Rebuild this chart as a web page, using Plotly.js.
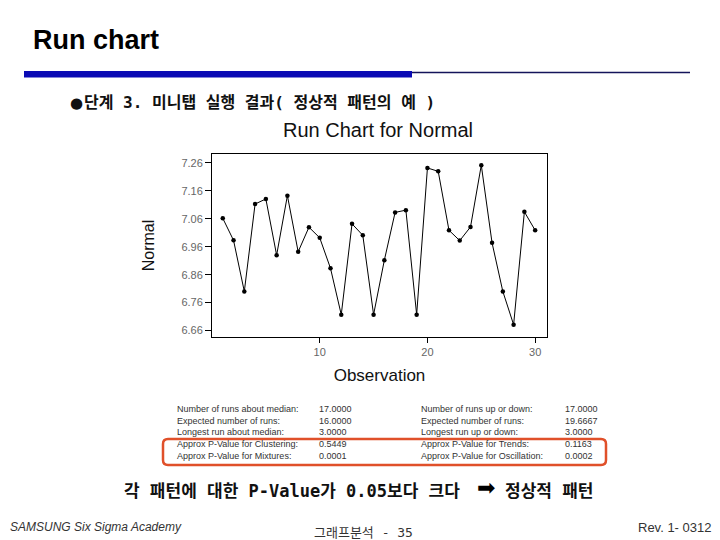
<!DOCTYPE html>
<html>
<head>
<meta charset="utf-8">
<script src="https://cdn.plot.ly/plotly-3.0.1.min.js"></script>
<style>
html,body{margin:0;padding:0;background:#fff;}
#chart{width:720px;height:540px;}
</style>
</head>
<body>
<div id="chart"></div>
<script>
// ---- data ----
var observation = [1,2,3,4,5,6,7,8,9,10,11,12,13,14,15,16,17,18,19,20,21,22,23,24,25,26,27,28,29,30];
var normalValues = [7.062,6.983,6.800,7.113,7.131,6.930,7.143,6.942,7.030,6.992,
                    6.883,6.717,7.042,7.001,6.717,6.912,7.083,7.091,6.717,7.242,
                    7.230,7.019,6.982,7.031,7.252,6.974,6.800,6.681,7.085,7.019];
var yTickVals = [6.66,6.76,6.86,6.96,7.06,7.16,7.26];
var yTickText = ["6.66","6.76","6.86","6.96","7.06","7.16","7.26"];
var xTickVals = [10,20,30];
var xTickText = ["10","20","30"];

var statLabelsLeft = ["Number of runs about median:","Expected number of runs:","Longest run about median:","Approx P-Value for Clustering:","Approx P-Value for Mixtures:"];
var statValuesLeft = ["17.0000","16.0000","3.0000","0.5449","0.0001"];
var statLabelsRight = ["Number of runs up or down:","Expected number of runs:","Longest run up or down:","Approx P-Value for Trends:","Approx P-Value for Oscillation:"];
var statValuesRight = ["17.0000","19.6667","3.0000","0.1163","0.0002"];

var slideTitle = "Run chart";
var bulletMark = "●";
var bulletText = "단계 3. 미니탭 실행 결과( 정상적 패턴의 예 )";
var conclusionText = "각 패턴에 대한 P-Value가 0.05보다 크다";
var conclusionResult = "정상적 패턴";
var footerLeft = "SAMSUNG Six Sigma Academy";
var footerCenter = "그래프분석 - 35";
var footerRight = "Rev. 1- 0312";

// ---- layout geometry (pixels) ----
var L = 212, R = 547, T = 154, B = 337;
var W = R - L, H = B - T;
function px(x){ return (x - L) / W; }
function py(y){ return (B - y) / H; }

var MONO_KR = 'DejaVu Sans Mono, Noto Sans CJK KR, monospace';
var annotations = [];
function addText(text, x, y, opts){
  opts = opts || {};
  annotations.push({
    text: text, xref:'paper', yref:'paper', x: px(x), y: py(y),
    xanchor: opts.xanchor || 'left', yanchor: 'middle', showarrow: false,
    font: {family: opts.family || 'Arial, Liberation Sans, sans-serif', size: opts.size || 12, color: opts.color || '#000'}
  });
}

addText('<b>' + slideTitle + '</b>', 31, 40, {size: 27});
addText(bulletMark, 68, 103, {size: 15, family: 'DejaVu Sans, sans-serif', color: '#111'});
addText('<b>' + bulletText + '</b>', 82, 103, {size: 16, family: MONO_KR, color: '#111'});

var rowsY = [409, 420.5, 432, 444, 455.5];
for (var i = 0; i < rowsY.length; i++){
  addText(statLabelsLeft[i], 175, rowsY[i], {size: 9, color: '#333'});
  addText(statValuesLeft[i], 317, rowsY[i], {size: 9, color: '#333'});
  addText(statLabelsRight[i], 419, rowsY[i], {size: 9, color: '#333'});
  addText(statValuesRight[i], 563, rowsY[i], {size: 9, color: '#333'});
}

addText('<b>' + conclusionText + '</b>', 122, 491, {size: 17, family: MONO_KR, color: '#111'});
addText('➡', 475, 487, {size: 22, family: 'DejaVu Sans, sans-serif', color: '#000'});
addText('<b>' + conclusionResult + '</b>', 503, 491, {size: 17, family: MONO_KR, color: '#111'});

addText('<i>' + footerLeft + '</i>', 8, 527, {size: 12, color: '#333'});
addText(footerCenter, 312, 532, {size: 13, family: MONO_KR, color: '#333'});
addText(footerRight, 713, 527, {size: 13, color: '#333', xanchor: 'right'});

// red rounded box
var bx0 = px(163), bx1 = px(606), by0 = py(465), by1 = py(439);
var rx = 5 / W, ry = 5 / H;
var boxPath = 'M ' + (bx0 + rx) + ' ' + by1 +
  ' L ' + (bx1 - rx) + ' ' + by1 +
  ' Q ' + bx1 + ' ' + by1 + ' ' + bx1 + ' ' + (by1 - ry) +
  ' L ' + bx1 + ' ' + (by0 + ry) +
  ' Q ' + bx1 + ' ' + by0 + ' ' + (bx1 - rx) + ' ' + by0 +
  ' L ' + (bx0 + rx) + ' ' + by0 +
  ' Q ' + bx0 + ' ' + by0 + ' ' + bx0 + ' ' + (by0 + ry) +
  ' L ' + bx0 + ' ' + (by1 - ry) +
  ' Q ' + bx0 + ' ' + by1 + ' ' + (bx0 + rx) + ' ' + by1 + ' Z';

var shapes = [
  {type:'rect', xref:'paper', yref:'paper', x0: px(24), x1: px(412), y0: py(77.5), y1: py(71), fillcolor:'#0a0ab4', line:{width:0}},
  {type:'line', xref:'paper', yref:'paper', x0: px(412), x1: px(690), y0: py(72.5), y1: py(72.5), line:{color:'#14145a', width:1.5}},
  {type:'path', xref:'paper', yref:'paper', path: boxPath, line:{color:'#e0502a', width:2.5}, fillcolor:'rgba(0,0,0,0)'}
];

var trace = {
  x: observation, y: normalValues, type:'scatter', mode:'lines+markers',
  line:{color:'#000', width:1},
  marker:{color:'#000', size:4.5},
  hoverinfo:'x+y', showlegend:false
};

var layout = {
  width:720, height:540,
  paper_bgcolor:'#fff', plot_bgcolor:'#fff',
  margin:{l:L, r:720-R, t:T, b:540-B, pad:0},
  title:{text:'Run Chart for Normal', x:378/720, xref:'container', xanchor:'center', y:1-130/540, yref:'container', yanchor:'middle',
         font:{family:'Arial, Liberation Sans, sans-serif', size:20, color:'#111'}},
  xaxis:{range:[0, 31.1], tickvals:xTickVals, ticktext:xTickText, ticks:'outside', ticklen:5, tickcolor:'#000',
         showline:true, linecolor:'#000', linewidth:1, mirror:true, showgrid:false, zeroline:false,
         tickfont:{family:'Arial, Liberation Sans, sans-serif', size:11, color:'#666'},
         title:{text:'Observation', standoff:11, font:{family:'Arial, Liberation Sans, sans-serif', size:17, color:'#111'}}},
  yaxis:{range:[6.637, 7.292], tickvals:yTickVals, ticktext:yTickText, ticks:'outside', ticklen:6, tickcolor:'#000',
         showline:true, linecolor:'#000', linewidth:1, mirror:true, showgrid:false, zeroline:false,
         tickfont:{family:'Arial, Liberation Sans, sans-serif', size:11, color:'#666'},
         title:{text:'Normal', standoff:22, font:{family:'Arial, Liberation Sans, sans-serif', size:16, color:'#111'}}},
  annotations: annotations,
  shapes: shapes
};

Plotly.newPlot('chart', [trace], layout, {displayModeBar:false, staticPlot:true});
</script>
</body>
</html>
